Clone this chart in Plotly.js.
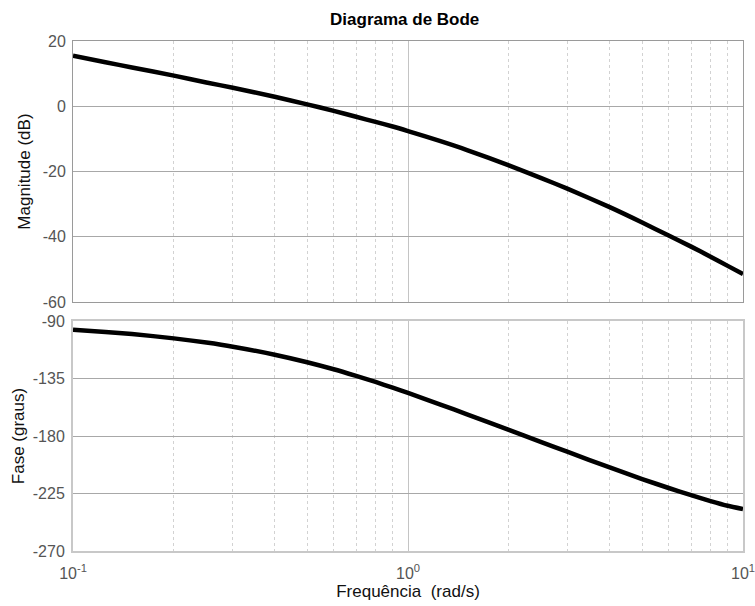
<!DOCTYPE html>
<html>
<head>
<meta charset="utf-8">
<script src="https://cdn.plot.ly/plotly-3.0.1.min.js"></script>
<style>html,body{margin:0;padding:0;background:#fff;}#chart{width:755px;height:606px;}</style>
</head>
<body>
<div id="chart"></div>
<script>
// Frequencies (rad/s) read along the x axis
var freq = [0.1, 0.125, 0.15, 0.2, 0.25, 0.3, 0.4, 0.5, 0.6, 0.7, 0.8, 0.9, 1, 1.25, 1.5, 2, 2.5, 3, 4, 5, 6, 7, 8, 9, 10];
// Magnitude (dB)
var magnitude = [15.5, 13.5, 11.9, 9.4, 7.3, 5.7, 2.9, 0.6, -1.4, -3.2, -4.8, -6.2, -7.6, -10.7, -13.4, -18.1, -22.0, -25.3, -30.9, -35.6, -39.6, -43.0, -46.1, -48.9, -51.4];
// Phase (degrees)
var phase = [-96.9, -98.6, -100.2, -103.6, -106.9, -110.1, -116.4, -122.3, -127.8, -133.0, -137.7, -142.2, -146.3, -155.4, -163.0, -175.2, -184.8, -192.5, -204.6, -213.7, -220.7, -226.3, -230.9, -234.6, -237.2];

var xMajor = [0.1, 1, 10];
var xMajorText = ['10<sup>-1</sup>', '10<sup>0</sup>', '10<sup>1</sup>'];
var xMinor = [0.2,0.3,0.4,0.5,0.6,0.7,0.8,0.9,2,3,4,5,6,7,8,9];
var magTicks = [20, 0, -20, -40, -60];
var magTickText = ['20', '0', '-20', '-40', '-60'];
var phaseTicks = [-90, -135, -180, -225, -270];
var phaseTickText = ['-90', '-135', '-180', '-225', '-270'];

var font = 'Liberation Sans, Arial, Helvetica, sans-serif';
var tickColor = '#555555';

var traces = [
  {x: freq, y: magnitude, xaxis: 'x', yaxis: 'y', mode: 'lines', line: {color: '#000', width: 4.5, shape: 'spline', smoothing: 0.6}, hoverinfo: 'skip', showlegend: false},
  {x: freq, y: phase, xaxis: 'x2', yaxis: 'y2', mode: 'lines', line: {color: '#000', width: 4.5, shape: 'spline', smoothing: 0.6}, hoverinfo: 'skip', showlegend: false}
];

function xaxisDef(showLabels, anchor, boxColor, boxWidth) {
  return {
    type: 'log', range: [-1, 1], anchor: anchor,
    tickvals: xMajor, ticktext: xMajorText, showticklabels: showLabels,
    ticks: '', showgrid: true, gridcolor: '#c4c4c4', gridwidth: 1,
    minor: {tickvals: xMinor, showgrid: true, gridcolor: '#d2d2d2', griddash: 'dot', gridwidth: 1, ticks: ''},
    showline: true, mirror: true, linecolor: boxColor, linewidth: boxWidth,
    zeroline: false, ticklabelstandoff: 7, ticklabeloverflow: 'allow',
    tickfont: {family: font, size: 16, color: tickColor}
  };
}

var layout = {
  width: 755, height: 606,
  margin: {l: 73, r: 12, t: 41, b: 55},
  paper_bgcolor: '#fff', plot_bgcolor: '#fff',
  title: {text: '<b>Diagrama de Bode</b>', font: {family: font, size: 17, color: '#000'}, x: 0.536, xanchor: 'center', y: 0.968, yanchor: 'middle'},
  xaxis: Object.assign(xaxisDef(false, 'y', '#9a9a9a', 1), {domain: [0, 1]}),
  yaxis: {
    domain: [0.488, 1], range: [-60, 20], tickvals: magTicks, ticktext: magTickText,
    showgrid: true, gridcolor: '#a8a8a8', gridwidth: 1, zeroline: false,
    showline: true, mirror: true, linecolor: '#9a9a9a', linewidth: 1, ticks: '',
    ticklabelstandoff: 3,
    tickfont: {family: font, size: 16, color: tickColor},
    title: {text: 'Magnitude (dB)', font: {family: font, size: 17, color: '#111'}, standoff: 7}
  },
  xaxis2: Object.assign(xaxisDef(true, 'y2', '#c8c8c8', 2), {domain: [0, 1],
    title: {text: 'Frequência\u00a0 (rad/s)', font: {family: font, size: 17, color: '#111'}, standoff: 4}}),
  yaxis2: {
    domain: [0, 0.451], range: [-270, -90], tickvals: phaseTicks, ticktext: phaseTickText,
    showgrid: true, gridcolor: '#a8a8a8', gridwidth: 1, zeroline: false,
    showline: true, mirror: true, linecolor: '#c8c8c8', linewidth: 2, ticks: '',
    ticklabelstandoff: 3,
    tickfont: {family: font, size: 16, color: tickColor},
    title: {text: 'Fase (graus)', font: {family: font, size: 17, color: '#111'}, standoff: 4}
  }
};

Plotly.newPlot('chart', traces, layout, {displayModeBar: false, staticPlot: true});
</script>
</body>
</html>
